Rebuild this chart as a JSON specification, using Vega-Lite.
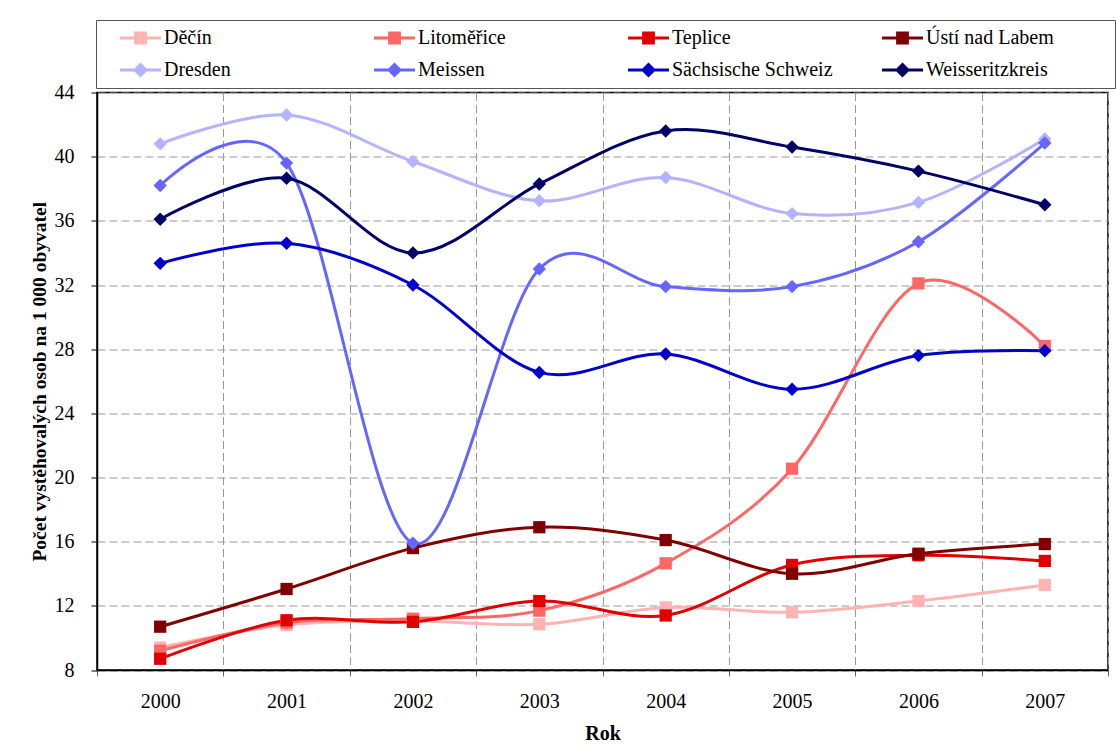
{
  "$schema": "https://vega.github.io/schema/vega-lite/v6.json",
  "width": 1011,
  "height": 577.5,
  "autosize": {"type": "none"},
  "padding": {"left": 97, "top": 92.5, "right": 8, "bottom": 77},
  "background": "white",
  "config": {
    "font": "Liberation Serif",
    "view": {"stroke": "#000", "strokeWidth": 1.5},
    "axis": {
      "labelFont": "Liberation Serif",
      "titleFont": "Liberation Serif",
      "labelColor": "#000",
      "titleColor": "#000",
      "labelFontSize": 20,
      "titleFontSize": 20,
      "titleFontWeight": "bold",
      "labelFlush": false,
      "labelOverlap": false
    }
  },
  "data": {
    "values": [
      {"okres": "Děčín", "stat": "ČR", "Rok": 2000, "hodnota": 9.4},
      {"okres": "Děčín", "stat": "ČR", "Rok": 2001, "hodnota": 10.8},
      {"okres": "Děčín", "stat": "ČR", "Rok": 2002, "hodnota": 11.05},
      {"okres": "Děčín", "stat": "ČR", "Rok": 2003, "hodnota": 10.85},
      {"okres": "Děčín", "stat": "ČR", "Rok": 2004, "hodnota": 11.9},
      {"okres": "Děčín", "stat": "ČR", "Rok": 2005, "hodnota": 11.6},
      {"okres": "Děčín", "stat": "ČR", "Rok": 2006, "hodnota": 12.3},
      {"okres": "Děčín", "stat": "ČR", "Rok": 2007, "hodnota": 13.3},
      {"okres": "Litoměřice", "stat": "ČR", "Rok": 2000, "hodnota": 9.2},
      {"okres": "Litoměřice", "stat": "ČR", "Rok": 2001, "hodnota": 10.95},
      {"okres": "Litoměřice", "stat": "ČR", "Rok": 2002, "hodnota": 11.2},
      {"okres": "Litoměřice", "stat": "ČR", "Rok": 2003, "hodnota": 11.7},
      {"okres": "Litoměřice", "stat": "ČR", "Rok": 2004, "hodnota": 14.65},
      {"okres": "Litoměřice", "stat": "ČR", "Rok": 2005, "hodnota": 20.55},
      {"okres": "Litoměřice", "stat": "ČR", "Rok": 2006, "hodnota": 32.1},
      {"okres": "Litoměřice", "stat": "ČR", "Rok": 2007, "hodnota": 28.2},
      {"okres": "Teplice", "stat": "ČR", "Rok": 2000, "hodnota": 8.7},
      {"okres": "Teplice", "stat": "ČR", "Rok": 2001, "hodnota": 11.1},
      {"okres": "Teplice", "stat": "ČR", "Rok": 2002, "hodnota": 11.0},
      {"okres": "Teplice", "stat": "ČR", "Rok": 2003, "hodnota": 12.3},
      {"okres": "Teplice", "stat": "ČR", "Rok": 2004, "hodnota": 11.4},
      {"okres": "Teplice", "stat": "ČR", "Rok": 2005, "hodnota": 14.55},
      {"okres": "Teplice", "stat": "ČR", "Rok": 2006, "hodnota": 15.15},
      {"okres": "Teplice", "stat": "ČR", "Rok": 2007, "hodnota": 14.8},
      {"okres": "Ústí nad Labem", "stat": "ČR", "Rok": 2000, "hodnota": 10.7},
      {"okres": "Ústí nad Labem", "stat": "ČR", "Rok": 2001, "hodnota": 13.05},
      {"okres": "Ústí nad Labem", "stat": "ČR", "Rok": 2002, "hodnota": 15.6},
      {"okres": "Ústí nad Labem", "stat": "ČR", "Rok": 2003, "hodnota": 16.9},
      {"okres": "Ústí nad Labem", "stat": "ČR", "Rok": 2004, "hodnota": 16.1},
      {"okres": "Ústí nad Labem", "stat": "ČR", "Rok": 2005, "hodnota": 14.0},
      {"okres": "Ústí nad Labem", "stat": "ČR", "Rok": 2006, "hodnota": 15.25},
      {"okres": "Ústí nad Labem", "stat": "ČR", "Rok": 2007, "hodnota": 15.85},
      {"okres": "Dresden", "stat": "SRN", "Rok": 2000, "hodnota": 40.8},
      {"okres": "Dresden", "stat": "SRN", "Rok": 2001, "hodnota": 42.6},
      {"okres": "Dresden", "stat": "SRN", "Rok": 2002, "hodnota": 39.7},
      {"okres": "Dresden", "stat": "SRN", "Rok": 2003, "hodnota": 37.25},
      {"okres": "Dresden", "stat": "SRN", "Rok": 2004, "hodnota": 38.7},
      {"okres": "Dresden", "stat": "SRN", "Rok": 2005, "hodnota": 36.45},
      {"okres": "Dresden", "stat": "SRN", "Rok": 2006, "hodnota": 37.15},
      {"okres": "Dresden", "stat": "SRN", "Rok": 2007, "hodnota": 41.1},
      {"okres": "Meissen", "stat": "SRN", "Rok": 2000, "hodnota": 38.2},
      {"okres": "Meissen", "stat": "SRN", "Rok": 2001, "hodnota": 39.6},
      {"okres": "Meissen", "stat": "SRN", "Rok": 2002, "hodnota": 15.9},
      {"okres": "Meissen", "stat": "SRN", "Rok": 2003, "hodnota": 33.0},
      {"okres": "Meissen", "stat": "SRN", "Rok": 2004, "hodnota": 31.9},
      {"okres": "Meissen", "stat": "SRN", "Rok": 2005, "hodnota": 31.9},
      {"okres": "Meissen", "stat": "SRN", "Rok": 2006, "hodnota": 34.7},
      {"okres": "Meissen", "stat": "SRN", "Rok": 2007, "hodnota": 40.85},
      {"okres": "Sächsische Schweiz", "stat": "SRN", "Rok": 2000, "hodnota": 33.35},
      {"okres": "Sächsische Schweiz", "stat": "SRN", "Rok": 2001, "hodnota": 34.6},
      {"okres": "Sächsische Schweiz", "stat": "SRN", "Rok": 2002, "hodnota": 32.0},
      {"okres": "Sächsische Schweiz", "stat": "SRN", "Rok": 2003, "hodnota": 26.55},
      {"okres": "Sächsische Schweiz", "stat": "SRN", "Rok": 2004, "hodnota": 27.7},
      {"okres": "Sächsische Schweiz", "stat": "SRN", "Rok": 2005, "hodnota": 25.5},
      {"okres": "Sächsische Schweiz", "stat": "SRN", "Rok": 2006, "hodnota": 27.6},
      {"okres": "Sächsische Schweiz", "stat": "SRN", "Rok": 2007, "hodnota": 27.9},
      {"okres": "Weisseritzkreis", "stat": "SRN", "Rok": 2000, "hodnota": 36.1},
      {"okres": "Weisseritzkreis", "stat": "SRN", "Rok": 2001, "hodnota": 38.65},
      {"okres": "Weisseritzkreis", "stat": "SRN", "Rok": 2002, "hodnota": 34.0},
      {"okres": "Weisseritzkreis", "stat": "SRN", "Rok": 2003, "hodnota": 38.3},
      {"okres": "Weisseritzkreis", "stat": "SRN", "Rok": 2004, "hodnota": 41.6},
      {"okres": "Weisseritzkreis", "stat": "SRN", "Rok": 2005, "hodnota": 40.6},
      {"okres": "Weisseritzkreis", "stat": "SRN", "Rok": 2006, "hodnota": 39.1},
      {"okres": "Weisseritzkreis", "stat": "SRN", "Rok": 2007, "hodnota": 37.0}
    ]
  },
  "encoding": {
    "y": {
      "field": "hodnota",
      "type": "quantitative",
      "scale": {"domain": [8, 44], "nice": false, "zero": false},
      "axis": {
        "values": [8, 12, 16, 20, 24, 28, 32, 36, 40, 44],
        "grid": true,
        "gridDash": [8, 4],
        "gridColor": "#999",
        "gridWidth": 1,
        "tickSize": 6,
        "tickColor": "#000",
        "domainColor": "#000",
        "domainWidth": 1.5,
        "labelPadding": 17,
        "title": "Počet vystěhovalých osob na 1 000 obyvatel",
        "titleFontSize": 19.5,
        "titlePadding": 5
      }
    }
  },
  "layer": [
    {
      "mark": {"type": "point", "filled": true, "opacity": 0},
      "encoding": {
        "x": {"field": "Rok", "type": "quantitative", "axis": null},
        "color": {
          "field": "okres",
          "type": "nominal",
          "legend": {
            "orient": "none",
            "legendX": -1,
            "legendY": -72.5,
            "direction": "horizontal",
            "columns": 4,
            "gridAlign": "all",
            "columnPadding": 0,
            "rowPadding": 0,
            "padding": 2,
            "strokeColor": "#555",
            "title": null,
            "labelFont": "Liberation Serif",
            "labelFontSize": 20,
            "labelColor": "#000",
            "labelOffset": 7.5,
            "labelLimit": 400,
            "symbolSize": 1024,
            "symbolOffset": 26.5,
            "symbolStrokeWidth": 0,
            "symbolOpacity": 1,
            "encode": {"symbols": {"update": {"opacity": {"value": 1}, "fillOpacity": {"value": 1}}}}
          }
        },
        "shape": {
          "field": "okres",
          "type": "nominal",
          "scale": {
            "domain": ["Děčín", "Litoměřice", "Teplice", "Ústí nad Labem", "Dresden", "Meissen", "Sächsische Schweiz", "Weisseritzkreis"],
            "range": [
              "M-2.66,-1M13.1,1M-1.28,-0.094L1.28,-0.094L1.28,0.094L-1.28,0.094ZM-0.4,-0.4L0.4,-0.4L0.4,0.4L-0.4,0.4Z",
              "M-2.66,-1M13.1,1M-1.28,-0.094L1.28,-0.094L1.28,0.094L-1.28,0.094ZM-0.4,-0.4L0.4,-0.4L0.4,0.4L-0.4,0.4Z",
              "M-2.66,-1M13.1,1M-1.28,-0.094L1.28,-0.094L1.28,0.094L-1.28,0.094ZM-0.4,-0.4L0.4,-0.4L0.4,0.4L-0.4,0.4Z",
              "M-2.66,-1M13.1,1M-1.28,-0.094L1.28,-0.094L1.28,0.094L-1.28,0.094ZM-0.4,-0.4L0.4,-0.4L0.4,0.4L-0.4,0.4Z",
              "M-2.66,-1M13.1,1M-1.28,-0.094L1.28,-0.094L1.28,0.094L-1.28,0.094ZM0,-0.47L0.47,0L0,0.47L-0.47,0Z",
              "M-2.66,-1M13.1,1M-1.28,-0.094L1.28,-0.094L1.28,0.094L-1.28,0.094ZM0,-0.47L0.47,0L0,0.47L-0.47,0Z",
              "M-2.66,-1M13.1,1M-1.28,-0.094L1.28,-0.094L1.28,0.094L-1.28,0.094ZM0,-0.47L0.47,0L0,0.47L-0.47,0Z",
              "M-2.66,-1M13.1,1M-1.28,-0.094L1.28,-0.094L1.28,0.094L-1.28,0.094ZM0,-0.47L0.47,0L0,0.47L-0.47,0Z"
            ]
          }
        }
      }
    },
    {
      "mark": {"type": "line", "interpolate": "cardinal", "tension": 0, "strokeWidth": 3},
      "encoding": {
        "x": {
          "field": "Rok",
          "type": "quantitative",
          "scale": {"domain": [1999.5, 2007.5], "nice": false, "zero": false},
          "axis": {
            "orient": "bottom",
            "values": [1999.5, 2000.5, 2001.5, 2002.5, 2003.5, 2004.5, 2005.5, 2006.5, 2007.5],
            "labels": false,
            "grid": true,
            "gridDash": [8, 4],
            "gridColor": "#999",
            "gridWidth": 1,
            "ticks": true,
            "tickSize": 6,
            "tickColor": "#666",
            "domainColor": "#000",
            "domainWidth": 1.5,
            "title": null
          }
        },
        "color": {
          "field": "okres",
          "type": "nominal",
          "scale": {
            "domain": ["Děčín", "Litoměřice", "Teplice", "Ústí nad Labem", "Dresden", "Meissen", "Sächsische Schweiz", "Weisseritzkreis"],
            "range": ["#FFB3B3", "#FF6666", "#E00000", "#800000", "#B3B3FF", "#6666FF", "#0000CC", "#000066"]
          },
          "legend": null
        }
      }
    },
    {
      "transform": [{"filter": "datum.stat === 'ČR'"}],
      "mark": {"type": "point", "shape": "square", "filled": true, "size": 150, "opacity": 1},
      "encoding": {
        "x": {
          "field": "Rok",
          "type": "quantitative",
          "axis": {
            "orient": "bottom",
            "values": [2000, 2001, 2002, 2003, 2004, 2005, 2006, 2007],
            "format": "d",
            "ticks": false,
            "tickSize": 0,
            "grid": false,
            "domain": false,
            "labelPadding": 21,
            "title": "Rok",
            "titlePadding": 12
          }
        },
        "color": {"field": "okres", "type": "nominal", "legend": null}
      }
    },
    {
      "transform": [{"filter": "datum.stat === 'SRN'"}],
      "mark": {"type": "point", "shape": "diamond", "filled": true, "size": 180, "opacity": 1},
      "encoding": {
        "x": {"field": "Rok", "type": "quantitative", "axis": null},
        "color": {"field": "okres", "type": "nominal", "legend": null}
      }
    }
  ],
  "resolve": {
    "axis": {"x": "independent"},
    "legend": {"color": "independent", "shape": "independent"}
  }
}
